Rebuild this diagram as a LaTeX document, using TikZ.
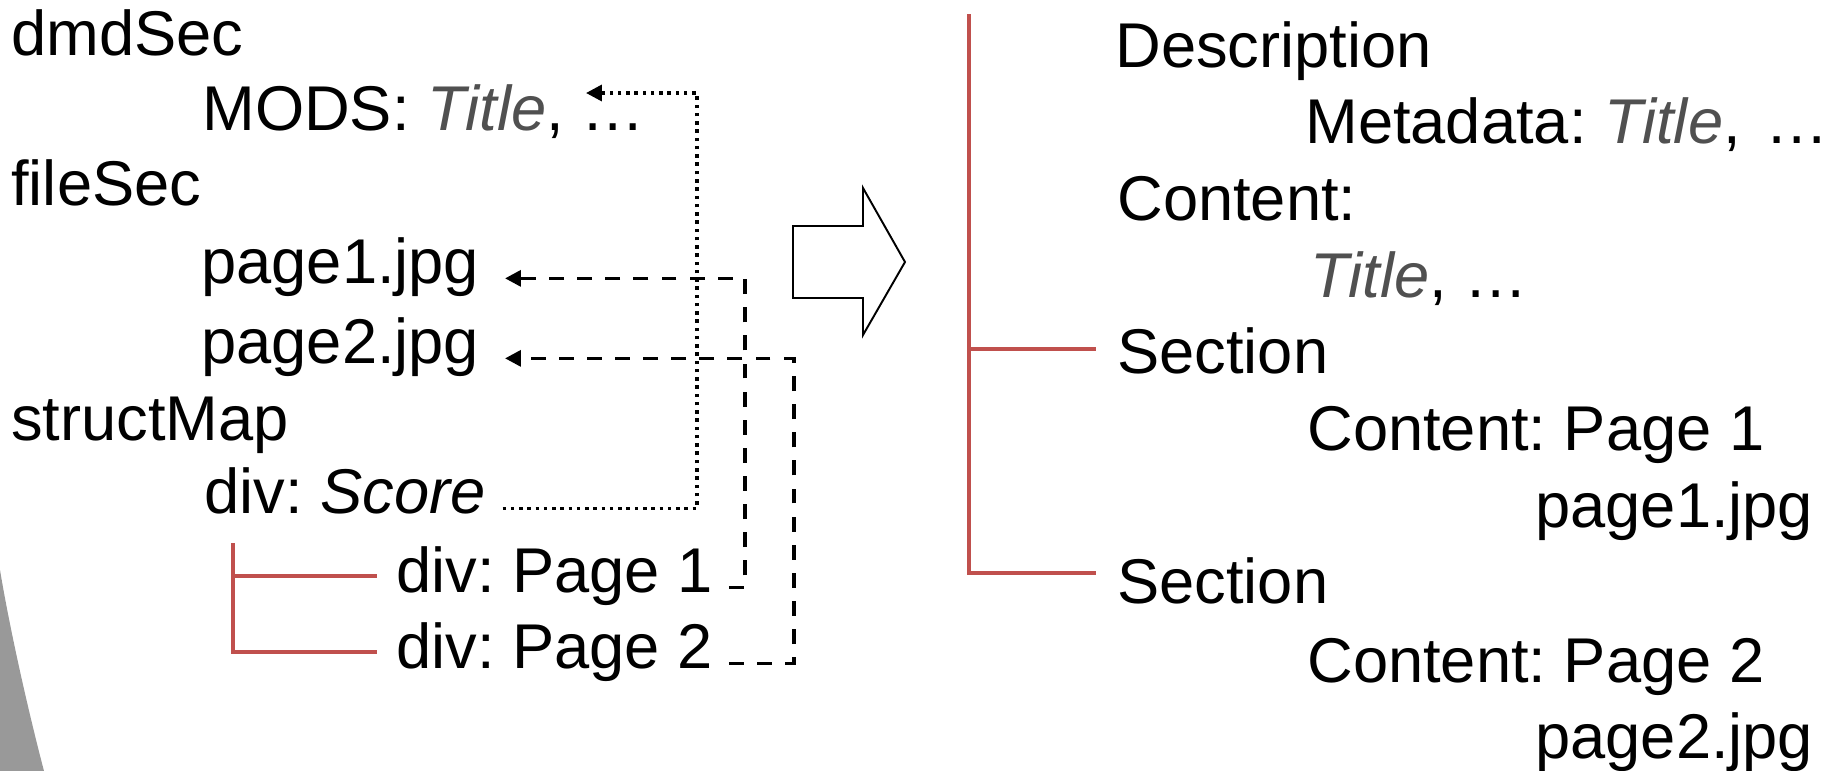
\documentclass[tikz,border=0pt]{standalone}
\usepackage{fontspec}
\setmainfont{Liberation Sans}
\usetikzlibrary{arrows.meta}
\frenchspacing

\definecolor{treered}{RGB}{192,80,77}
\definecolor{titlegray}{RGB}{80,80,80}
\definecolor{wedgegray}{RGB}{153,153,153}
\newcommand{\ttl}{\textit{\color{titlegray}Title}}

\tikzset{
  entry/.style={anchor=base west, inner sep=0pt, font=\fontsize{36}{43}\selectfont},
  treeline/.style={treered, line width=2.3pt},
  reftip/.style={-{Triangle[length=9pt,width=9pt]}},
  refdash/.style={reftip, line width=2pt, dash pattern=on 8.5pt off 7.5pt},
  refdot/.style={reftip, line width=2pt, dash pattern=on 2pt off 2.7pt},
}

\begin{document}
\begin{tikzpicture}[x=0.02cm, y=-0.02cm]

\useasboundingbox (0,0) rectangle (1840,771);

\fill[wedgegray] (0,570) .. controls (10,630) and (28,710) .. (44,771) -- (0,771) -- cycle;

% METS side
\node[entry] (dmd)    at (11,55)  {dmdSec};
\node[entry] (mods)   at (202,130) {MODS: \ttl, …};
\node[entry] (file)   at (11,205) {fileSec};
\node[entry] (jpgA)   at (201,283) {page1.jpg};
\node[entry] (jpgB)   at (201,363) {page2.jpg};
\node[entry] (smap)   at (11,440) {structMap};
\node[entry] (score)  at (204,513) {div: \textit{Score}};
\node[entry] (divA)   at (396,592) {div: Page 1};
\node[entry] (divB)   at (396,668) {div: Page 2};

\coordinate (scoreroot) at (233,543);
\draw[treeline] (scoreroot) |- (divA.west) [shorten >=11pt];
\draw[treeline] (scoreroot) |- (divB.west) [shorten >=11pt];

% pointers back into dmdSec / fileSec
\coordinate (modsref) at (586,93);
\coordinate (dotbus)  at (697,93);
\coordinate (busA)    at (745,0);
\coordinate (busB)    at (794,0);

\draw[refdot, shorten <=9.5pt] (score.mid east) -| (dotbus) -- (modsref);
\draw[refdash, shorten <=9pt, shorten >=14.5pt] (divA.mid east) -| (busA |- jpgA.mid east) -- (jpgA.mid east);
\draw[refdash, shorten <=9pt, shorten >=14.5pt] (divB.mid east) -| (busB |- jpgB.mid east) -- (jpgB.mid east);

% block arrow
\draw[line width=1.1pt, fill=white] (793,226) -- (863,226) -- (863,188) -- (905,262)
  -- (863,335) -- (863,298) -- (793,298) -- cycle;

% resulting structure
\node[entry] (desc)  at (1115,67)  {Description};
\node[entry] (meta)  at (1305,143) {Metadata: \ttl, \hspace{4pt}…};
\node[entry] (cont)  at (1117,220) {Content:};
\node[entry] (ctitle) at (1310,297) {\ttl, …};
\node[entry] (secA)  at (1117,373) {Section};
\node[entry] (contA) at (1307,450) {Content: Page 1};
\node[entry] (fileA) at (1535,527) {page1.jpg};
\node[entry] (secB)  at (1117,603) {Section};
\node[entry] (contB) at (1307,682) {Content: Page 2};
\node[entry] (fileB) at (1535,758) {page2.jpg};

\coordinate (docroot) at (969,14);
\draw[treeline] (docroot) |- ([yshift=1pt]secA.west) [shorten >=12pt];
\draw[treeline] (docroot) |- ([yshift=4pt]secB.west) [shorten >=12pt];

\end{tikzpicture}
\end{document}
